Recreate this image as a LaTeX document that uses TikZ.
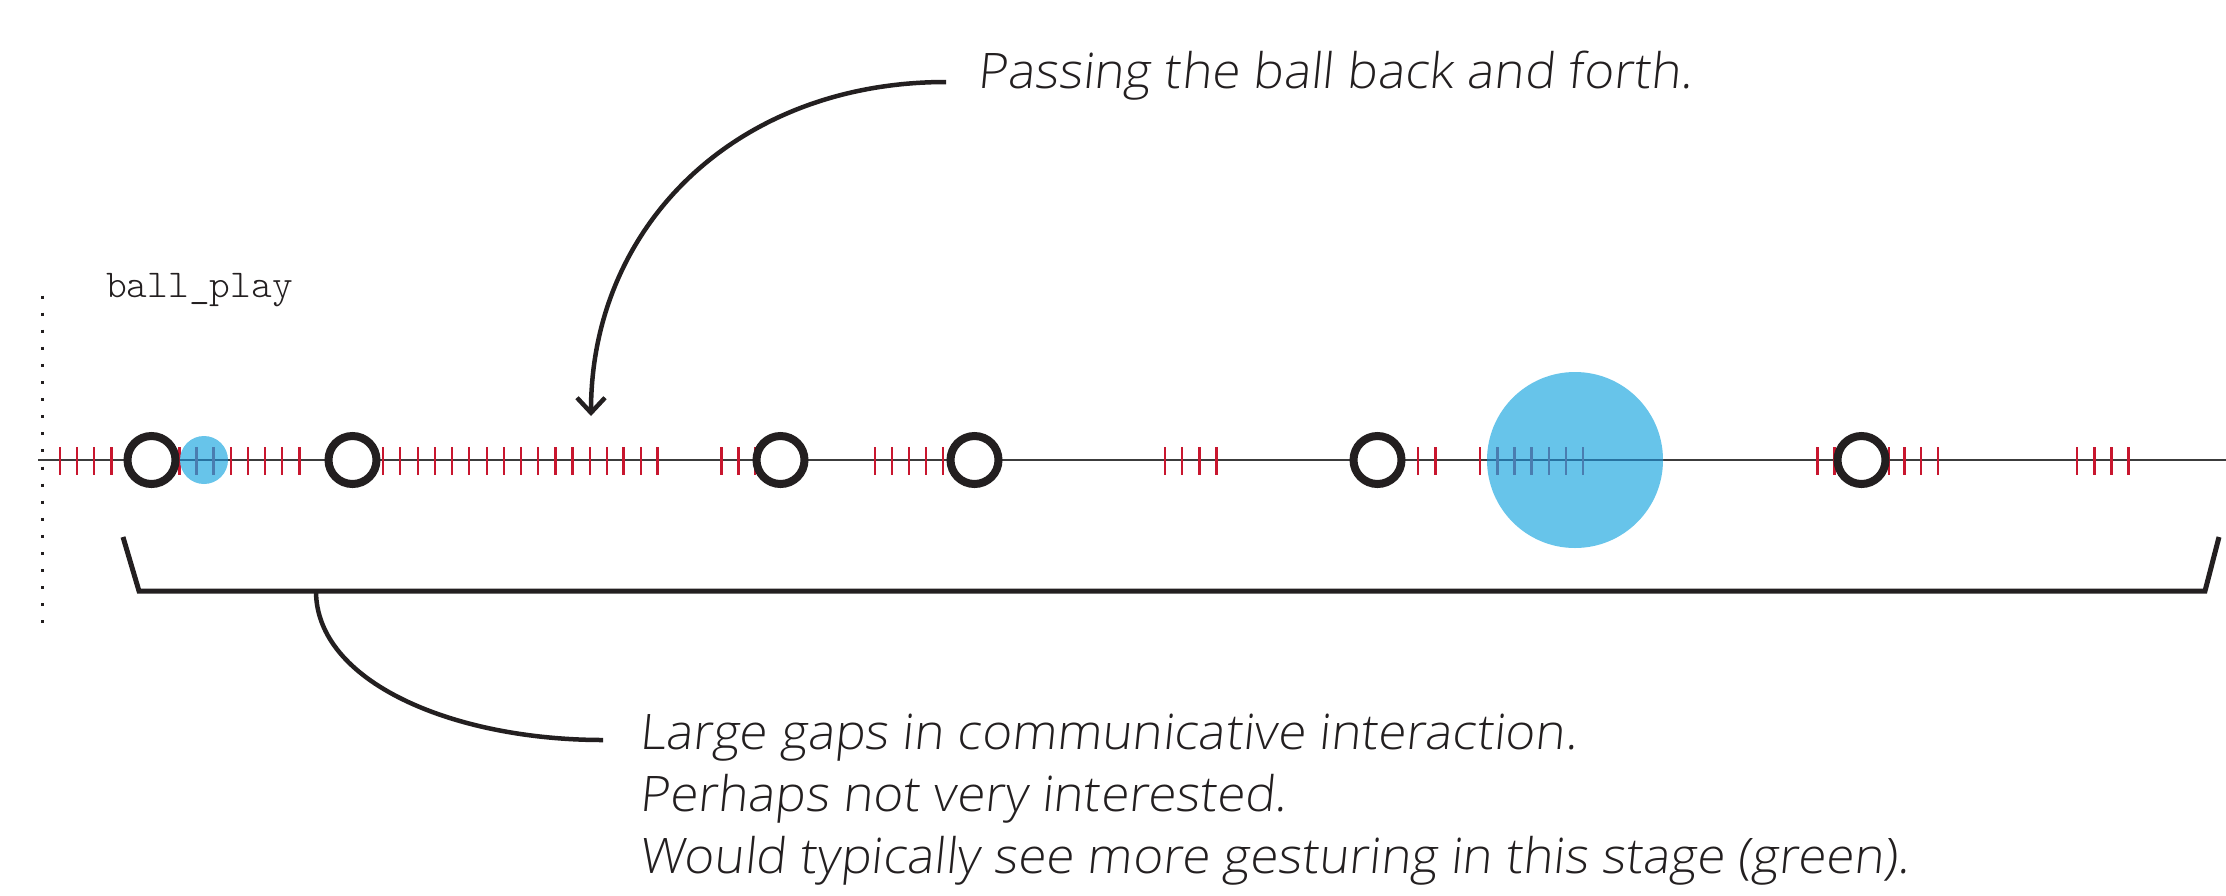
\documentclass[tikz,border=0pt]{standalone}
\usepackage{fontspec}
\usetikzlibrary{arrows.meta}
\IfFontExistsTF{Open Sans Light}{\newfontfamily\lab[FakeSlant=0.1,FakeStretch=1.045]{Open Sans Light}}{\newfontfamily\lab[FakeSlant=0.1,FakeStretch=1.045]{Open Sans}}
\IfFontExistsTF{Latin Modern Mono Light}{\newfontfamily\monofnt{Latin Modern Mono Light}}{\newfontfamily\monofnt{Latin Modern Mono}}
\definecolor{ink}{RGB}{35,31,32}
\definecolor{tickred}{RGB}{200,22,46}
\definecolor{ballblue}{RGB}{103,196,234}
\definecolor{tickblue}{RGB}{74,125,176}
\definecolor{lineblue}{RGB}{40,115,160}
\definecolor{axisgray}{RGB}{60,60,60}
\begin{document}
\begin{tikzpicture}[x=1pt,y=-1pt,
  redtick/.style={draw=tickred,line width=2.8pt},
  bluetick/.style={draw=tickblue,line width=2.8pt},
  ring/.style={circle,draw=ink,fill=white,line width=8pt,minimum size=48pt,inner sep=0pt,outer sep=0pt},
  ball/.style={circle,fill=ballblue,inner sep=0pt,outer sep=0pt},
  note/.style={font=\lab\fontsize{49}{62}\selectfont,text=ink,inner sep=0pt,anchor=base west},
  connector/.style={draw=ink,line width=4.5pt}]
\useasboundingbox[fill=white] (0,0) rectangle (2226,895);
% dotted vertical guide
\draw[ink,line width=3pt,dash pattern=on 3pt off 14.1pt] (42,295.5) -- (42,625);
% timeline
\draw[axisgray,line width=2.7pt] (38,460) -- (2226,460);
% red ticks
\foreach \x in {60,77,94,111.5,179.5,231,248,265,282,299.5,383,400,418,435,452,469,487,504,521,538,555.5,572.5,590,607,623.5,641,657.5,721.5,738.5,755,875,892,909,926,943,1165,1182,1199.5,1216.5,1418,1435.5,1480,1817.5,1834.5,1889,1904.5,1921,1938,2077,2094.5,2111.5,2128.5}
  \draw[redtick] (\x,447) -- (\x,475);
% blue balls
\node[ball,minimum size=48pt] (b1) at (204,460) {};
\node[ball,minimum size=176pt] (b2) at (1575,460) {};
\draw[lineblue,line width=2.7pt] (b1.west) -- (b1.east);
\draw[lineblue,line width=2.7pt] (b2.west) -- (b2.east);
\foreach \x in {196.5,213.5,1497.5,1514.5,1531.5,1549,1566,1583}
  \draw[bluetick] (\x,447) -- (\x,475);
% rings
\node[ring] (r1) at (151.5,460) {};
\node[ring] (r2) at (352.5,460) {};
\node[ring] (r3) at (780.5,460) {};
\node[ring] (r4) at (974.5,460) {};
\node[ring] (r5) at (1377.5,460) {};
\node[ring] (r6) at (1861.5,460) {};
% bracket
\draw[ink,line width=5pt,line join=miter] (123,537) -- (139,591) -- (2205,591) -- (2219,537);
% labels
\node[font=\monofnt\fontsize{39.5}{44}\selectfont,text=ink,inner sep=0pt,anchor=base west] (title) at (106,297) {ball\_play};
\node[note] (pass) at (977,88) {Passing the ball back and forth.};
\node[note] (gaps1) at (639,749) {Large gaps in communicative interaction.};
\node[note] (gaps2) at (639,811) {Perhaps not very interested.};
\node[note] (gaps3) at (639,873) {Would typically see more gesturing in this stage (green).};
% connectors
\coordinate (passend) at (946,82);
\coordinate (tip) at (591,416);
\coordinate (bmid) at (316,591);
\coordinate (gapsend) at (603,740);
\draw[connector,-{Straight Barb[length=15pt,width=28pt]}] (passend) .. controls (736,82) and (591,226) .. (tip);
\draw[connector] (bmid) .. controls (316,682) and (453,740) .. (gapsend);
\end{tikzpicture}
\end{document}
